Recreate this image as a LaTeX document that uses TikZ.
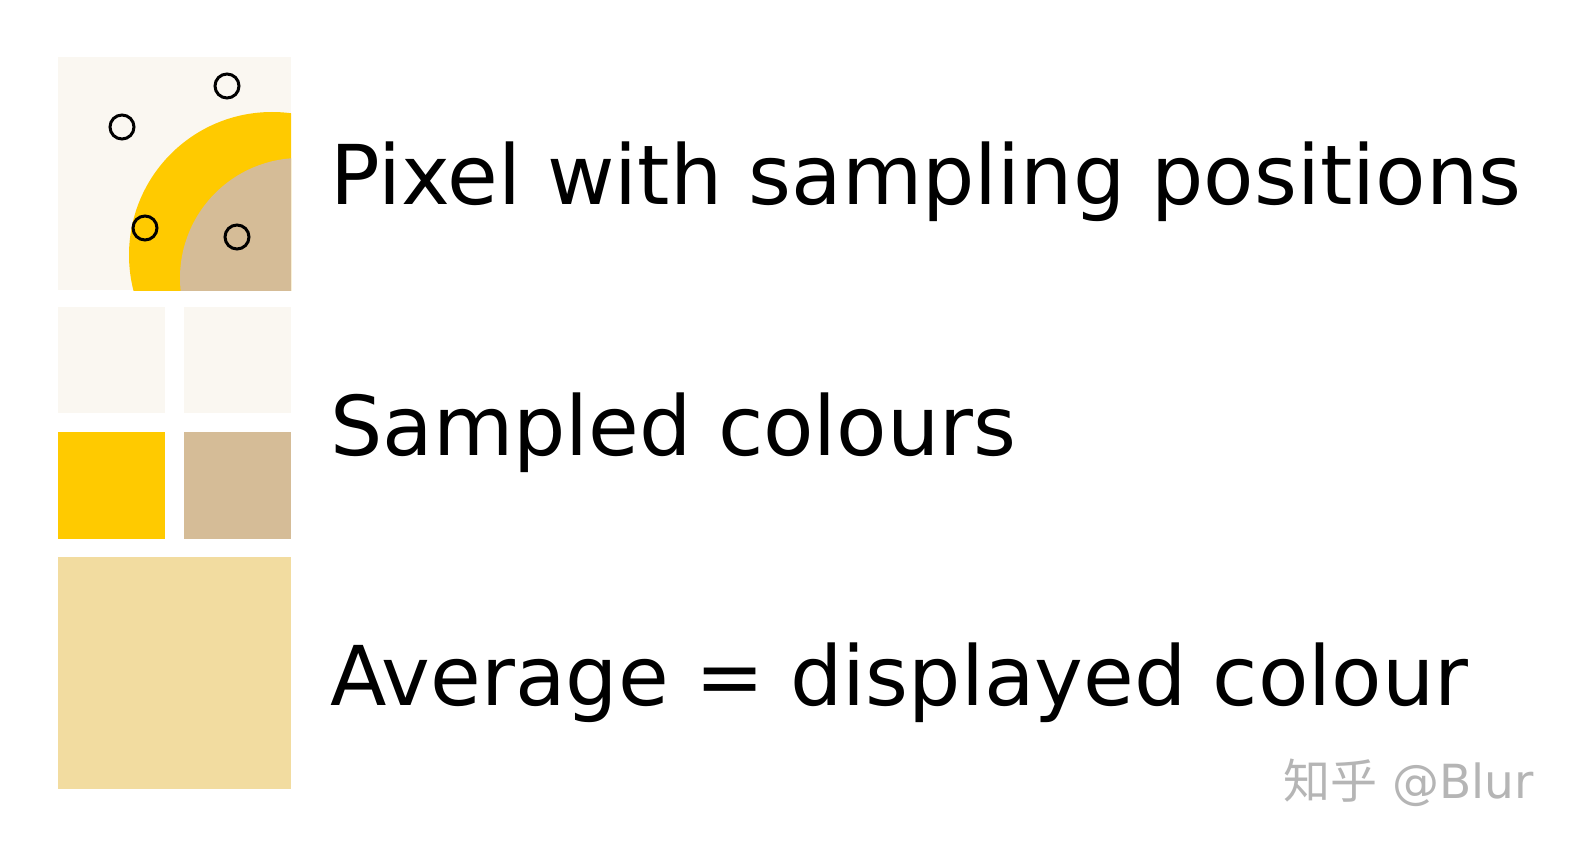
\documentclass[tikz,border=0pt]{standalone}
\usepackage{fontspec}
\setmainfont{DejaVu Sans}
\newfontfamily\cjkfont{Noto Sans CJK SC}
\definecolor{pixbg}{HTML}{FAF7F1}
\definecolor{sunyellow}{HTML}{FFCA00}
\definecolor{tan}{HTML}{D5BC97}
\definecolor{avgcol}{HTML}{F2DCA0}
\definecolor{wmgray}{HTML}{B5B5B5}
\tikzset{
  sample/.style={draw=black, line width=3pt, fill=none},
  label/.style={anchor=base west, inner sep=0pt, font=\fontsize{82.5}{95}\selectfont},
}
\begin{document}
\begin{tikzpicture}[x=1pt,y=-1pt]
\useasboundingbox (0,0) rectangle (1576,850);
\fill[white] (0,0) rectangle (1576,850);
% pixel with sampling positions
\fill[pixbg] (58,57) rectangle (291,290);
\begin{scope}
  \clip (58,57) rectangle (291,290);
  \fill[sunyellow] (272,255) circle[radius=143];
  \fill[tan] (300,278) circle[radius=120];
\end{scope}
\draw[sample] (227,86) circle[radius=12];
\draw[sample] (122,127) circle[radius=12];
\draw[sample] (145,228) circle[radius=12];
\draw[sample] (237,237) circle[radius=12];
% sampled colours
\fill[pixbg] (58,307) rectangle (165,413);
\fill[pixbg] (184,307) rectangle (291,413);
\fill[sunyellow] (58,432) rectangle (165,539);
\fill[tan] (184,432) rectangle (291,539);
% average
\fill[avgcol] (58,557) rectangle (291,789);
% labels
\node[label] (l1) at (330,205) {Pixel with sampling positions};
\node[label] (l2) at (330,455) {Sampled colours};
\node[label] (l3) at (330,705) {Average = displayed colour};
% watermark
\node[anchor=base west, inner sep=0pt, text=wmgray, font=\fontsize{47}{50}\selectfont] (wm) at (1283,798) {{\cjkfont 知乎} @Blur};
\end{tikzpicture}
\end{document}
